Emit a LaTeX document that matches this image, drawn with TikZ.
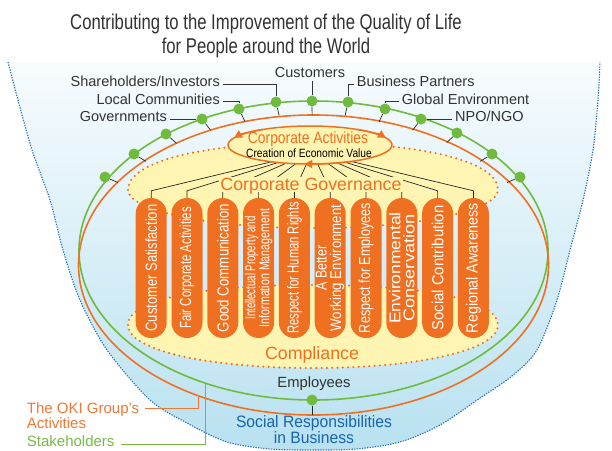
\documentclass[tikz,border=0pt]{standalone}
\usepackage{fontspec}
\setmainfont{Liberation Sans}
\newfontfamily\condA[FakeStretch=0.78]{Liberation Sans}
\newfontfamily\condB[FakeStretch=0.85]{Liberation Sans}
\newfontfamily\condP[FakeStretch=0.8]{Liberation Sans}
\newfontfamily\condS[FakeStretch=0.95]{Liberation Sans}
\usetikzlibrary{shapes.geometric,arrows.meta,calc}
\definecolor{okiOr}{RGB}{240,112,34}
\definecolor{stGreen}{RGB}{112,186,62}
\definecolor{paleY}{RGB}{255,245,178}
\definecolor{bowlBlue}{RGB}{184,225,240}
\definecolor{bowlTop}{RGB}{248,252,254}
\definecolor{dotBlue}{RGB}{35,110,190}
\definecolor{txtGray}{RGB}{50,50,50}
\definecolor{srBlue}{RGB}{25,100,175}
\definecolor{okiLblC}{RGB}{240,120,50}
\definecolor{stkLblC}{RGB}{120,185,70}
\newcommand{\pilw}[2]{\resizebox{#1pt}{\height}{#2}}
\begin{document}
\begin{tikzpicture}[x=1pt,y=-1pt,
  stdot/.style={circle, fill=stGreen, minimum size=11pt, inner sep=0pt},
  tickline/.style={draw=black!85, line width=0.7pt},
  lbl/.style={text=txtGray, font=\fontsize{14.5}{16}\selectfont, inner sep=3pt},
  lblline/.style={draw=black!80, line width=0.8pt},
  pillar/.style={rotate=90, fill=okiOr, rounded corners=15.5pt, minimum width=140pt, minimum height=31pt, inner sep=0pt, text=white, align=center, font=\condP\fontsize{16}{15}\selectfont},
  hubline/.style={draw=black!85, line width=0.7pt},
  yellowband/.style={fill=paleY, draw=okiOr, line width=2.3pt, line cap=round, dash pattern=on 0pt off 5.3pt},
]
\useasboundingbox (0,0) rectangle (612,450);

% bowl
\shade[top color=bowlTop, bottom color=bowlBlue] plot[smooth] coordinates {(8,62) (18,100) (32,150) (50,200) (63,250) (80,300) (107,350) (150,400) (187,423) (227,442) (270,449) (313,450) (356,449) (400,442) (440,425) (480,398) (512,376) (537,350) (557,300) (570,250) (583,200) (593,150) (598,100) (600,62)} -- cycle;
\draw[dotBlue, line width=1.1pt, dash pattern=on 1.3pt off 1.3pt] plot[smooth] coordinates {(8,62) (18,100) (32,150) (50,200) (63,250) (80,300) (107,350) (150,400) (187,423) (227,442) (270,449) (313,450) (356,449) (400,442) (440,425) (480,398) (512,376) (537,350) (557,300) (570,250) (583,200) (593,150) (598,100) (600,62)};

% title
\node[text=txtGray, font=\condA\fontsize{21.4}{24}\selectfont, align=center, anchor=north, inner sep=0pt] (title) at (266,13.7) {Contributing to the Improvement of the Quality of Life\\for People around the World};

% big ellipses
\node[ellipse, draw=stGreen, line width=1.6pt, minimum width=469pt, minimum height=299pt, inner sep=0pt] (stake) at (313.5,250.5) {};
\node[ellipse, draw=okiOr, line width=1.6pt, minimum width=470pt, minimum height=300pt, inner sep=0pt] (okiEll) at (313.5,265) {};
\coordinate (ctr) at (313.5,265);

% stakeholder dots
\node[stdot] (d1) at (105,177) {};
\node[stdot] (d2) at (134,154) {};
\node[stdot] (d3) at (166,134) {};
\node[stdot] (d4) at (202,119) {};
\node[stdot] (d5) at (239,109) {};
\node[stdot] (d6) at (276,102) {};
\node[stdot] (d7) at (312,101) {};
\node[stdot] (d8) at (348,102) {};
\node[stdot] (d9) at (385,109) {};
\node[stdot] (d10) at (421,119) {};
\node[stdot] (d11) at (457,133) {};
\node[stdot] (d12) at (492,154) {};
\node[stdot] (d13) at (520,177) {};
\node[stdot] (d14) at (312,400) {};
\foreach \i in {1,...,13} \draw[tickline] (d\i) -- ($(d\i.center)!14pt!(ctr)$);
\draw[tickline] (d14) -- ($(d14.center)+(0,15)$);

% stakeholder labels
\node[lbl, anchor=base] (cust) at (310,77.3) {Customers};
\node[lbl, anchor=base east] (share) at (223,86.7) {Shareholders/Investors};
\node[lbl, anchor=base west] (bpart) at (353.7,86.7) {Business Partners};
\node[lbl, anchor=base east] (lcom) at (223,104.3) {Local Communities};
\node[lbl, anchor=base west] (genv) at (398.7,104.3) {Global Environment};
\node[lbl, anchor=base east] (govt) at (170,121.7) {Governments};
\node[lbl, anchor=base west] (npo) at (452,121.7) {NPO/NGO};
\draw[lblline] (cust.south -| d7) -- (d7);
\draw[lblline] (share.mid east) -| (d6);
\draw[lblline] (bpart.mid west) -| (d8);
\draw[lblline] (lcom.mid east) -| (d5);
\draw[lblline] (genv.mid west) -| (d9);
\draw[lblline] (govt.mid east) -- (govt.mid east -| d4.west);
\draw[lblline] (npo.mid west) -- (npo.mid west -| d10.east);

% yellow bands
\path[yellowband] (128,190) .. controls (128,162) and (200,143) .. (313,143) .. controls (426,143) and (498,162) .. (498,190) .. controls (498,210) and (420,228) .. (313,228) .. controls (206,228) and (128,210) .. (128,190) -- cycle;
\path[yellowband] (128,325) .. controls (128,300) and (200,285) .. (313,285) .. controls (426,285) and (498,300) .. (498,325) .. controls (498,350) and (420,368) .. (313,368) .. controls (206,368) and (128,350) .. (128,325) -- cycle;

% pillars
\node[pillar] (p1) at (151.2,268) {\pilw{126.7}{Customer Satisfaction}};
\node[pillar] (p2) at (187.0,268) {\pilw{121.7}{Fair Corporate Activities}};
\node[pillar] (p3) at (222.8,268) {\pilw{128.3}{Good Communication}};
\node[pillar, font=\condP\fontsize{14.5}{14}\selectfont] (p4) at (258.6,268) {\pilw{103}{Intellectual Property and}\\\pilw{118}{Information Management}};
\node[pillar] (p5) at (294.4,268) {\pilw{131.7}{Respect for Human Rights}};
\node[pillar, font=\condP\fontsize{15.5}{14.5}\selectfont] (p6) at (330.2,268) {A Better\\\pilw{126.7}{Working Environment}};
\node[pillar] (p7) at (366.0,268) {\pilw{130}{Respect for Employees}};
\node[pillar, font=\condP\fontsize{15.5}{14}\selectfont] (p8) at (401.8,268) {\pilw{111.7}{Environmental}\\\pilw{106.7}{Conservation}};
\node[pillar] (p9) at (437.6,268) {\pilw{125}{Social Contribution}};
\node[pillar] (p10) at (473.4,268) {\pilw{130}{Regional Awareness}};

% hub lines
\coordinate (hub) at (312,152);
\foreach \i in {1,...,10} \draw[hubline] (hub) -- ([yshift=7pt]p\i.east) -- (p\i.east);

\node[text=okiOr, fill=paleY, font=\fontsize{17.8}{20}\selectfont, anchor=base, inner sep=1pt, text depth=0pt] (gov) at (311,190.7) {Corporate Governance};

% corporate activities ellipse
\node[ellipse, draw=okiOr, fill=paleY, line width=1.5pt, minimum width=164pt, minimum height=38pt, inner sep=0pt] (ca) at (310,145) {};
\draw[okiOr, line width=1.5pt, -{Triangle[length=8pt,width=8pt]}] ($(ca.center)+(125:82pt and 19pt)$) arc[start angle=125, end angle=158, x radius=82pt, y radius=19pt];
\draw[okiOr, line width=1.5pt, -{Triangle[length=8pt,width=8pt]}] ($(ca.center)+(55:82pt and 19pt)$) arc[start angle=55, end angle=22, x radius=82pt, y radius=19pt];
\draw[okiOr, line width=1.5pt, -{Triangle[length=8pt,width=8pt]}] ($(ca.center)+(300:82pt and 19pt)$) arc[start angle=300, end angle=266, x radius=82pt, y radius=19pt];
\node[text=okiOr, font=\condB\fontsize{16.3}{18}\selectfont, anchor=base, inner sep=0pt] (catitle) at (308,143.5) {Corporate Activities};
\node[text=black, font=\condB\fontsize{12}{13}\selectfont, anchor=base, inner sep=0pt] (cev) at (309,157) {Creation of Economic Value};

% other texts
\node[text=okiOr, font=\fontsize{17.8}{20}\selectfont, anchor=base, inner sep=0pt] (comp) at (312,359.4) {Compliance};
\node[text=txtGray, font=\fontsize{14.8}{16}\selectfont, anchor=base, inner sep=0pt] (emp) at (314,387.5) {Employees};
\node[text=srBlue, font=\condS\fontsize{16.5}{16}\selectfont, align=center, anchor=north, inner sep=0pt] (srb) at (314,415) {Social Responsibilities\\in Business};

% left labels
\node[text=okiLblC, font=\fontsize{15}{15}\selectfont, align=left, anchor=north west, inner sep=0pt] (okiLbl) at (26.7,402.4) {The OKI Group's\\Activities};
\coordinate (okiEnd) at (145,408.3);
\draw[okiLblC, line width=1pt] (okiEnd) -| (okiEll.229.5);
\node[text=stkLblC, font=\fontsize{15}{15}\selectfont, anchor=base west, inner sep=0pt] (stk) at (26.7,446.7) {Stakeholders};
\draw[stkLblC, line width=1pt] ([xshift=6pt]stk.mid east) -| (stake.231.8);
\end{tikzpicture}
\end{document}
